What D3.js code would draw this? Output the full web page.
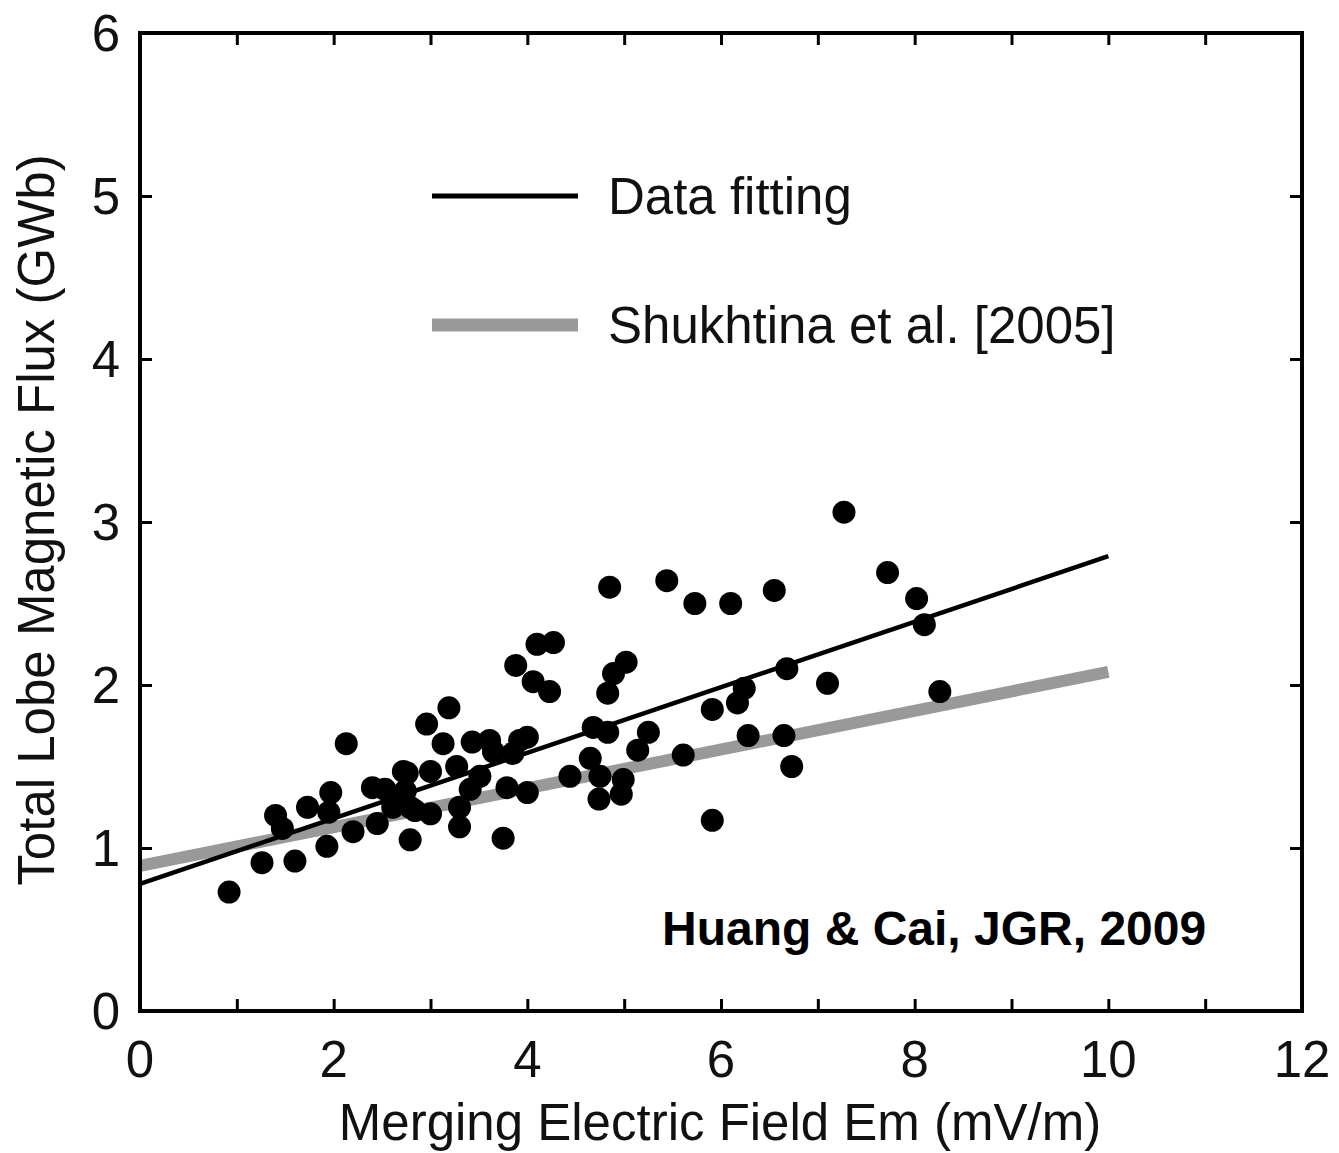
<!DOCTYPE html>
<html>
<head>
<meta charset="utf-8">
<script src="https://cdn.jsdelivr.net/npm/d3@7"></script>
<style>
  body { margin: 0; background: #fff; }
  text { font-family: "Liberation Sans", Arial, Helvetica, sans-serif; }
</style>
</head>
<body>
<div id="chart"></div>
<script>
// Observed points: merging electric field Em (mV/m) vs total lobe flux (GWb)
var emValues = [
    0.92, 1.26, 1.60, 1.40, 1.47, 1.73, 1.93, 1.97, 1.95, 2.13,
    2.20, 2.40, 2.45, 2.53, 2.61, 2.72, 2.74, 2.84, 2.79, 2.76,
    3.00, 2.79, 3.00, 2.96, 3.19, 3.13, 3.27, 3.30, 3.30, 3.43,
    3.61, 3.51, 3.41, 3.65, 3.75, 3.79, 3.85, 3.92, 4.00, 4.00,
    3.88, 4.06, 4.23, 4.10, 4.27, 4.44, 4.65, 4.68, 4.83, 4.75,
    4.74, 4.99, 4.97, 5.14, 5.25, 4.83, 4.89, 5.02, 4.85, 5.44,
    5.73, 6.10, 6.55, 7.27, 7.72, 8.02, 8.10, 6.68, 7.10, 8.26,
    6.24, 6.17, 5.91, 6.28, 6.65, 5.61, 6.73, 5.91
];
var fluxValues = [
    0.73, 0.91, 0.92, 1.20, 1.12, 1.25, 1.01, 1.34, 1.22, 1.64,
    1.10, 1.37, 1.15, 1.36, 1.25, 1.47, 1.35, 1.23, 1.05, 1.46,
    1.47, 1.25, 1.21, 1.76, 1.86, 1.64, 1.50, 1.25, 1.13, 1.65,
    1.66, 1.44, 1.36, 1.59, 1.06, 1.37, 1.58, 1.66, 1.68, 1.34,
    2.12, 2.02, 1.96, 2.25, 2.26, 1.44, 1.55, 1.74, 1.71, 1.44,
    1.30, 1.42, 1.33, 1.60, 1.71, 1.95, 2.07, 2.14, 2.60, 2.64,
    2.50, 2.50, 2.58, 3.06, 2.69, 2.53, 2.37, 2.10, 2.01, 1.96,
    1.98, 1.89, 1.85, 1.69, 1.69, 1.57, 1.50, 1.17
];

// Fitted lines, end points at Em = 0 and Em = 10
var lineEm = [0, 10];
var fitFlux = [0.78, 2.79];
var shukhtinaFlux = [0.89, 2.08];

var legendLabels = ["Data fitting", "Shukhtina et al. [2005]"];
var xTickLabels = [0, 2, 4, 6, 8, 10, 12];
var yTickLabels = [0, 1, 2, 3, 4, 5, 6];

var w = 1339;
var h = 1153;
var plotLeft = 140, plotRight = 1302, plotTop = 33, plotBottom = 1011;

var svg = d3.select("#chart")
    .append("svg")
    .attr("width", w)
    .attr("height", h);

var xScale = d3.scaleLinear().domain([0, 12]).range([plotLeft, plotRight]);
var yScale = d3.scaleLinear().domain([0, 6]).range([plotBottom, plotTop]);

var tickLen = 12;

// Inward ticks on all four sides (x every 1, y every 1)
var xAxisBottom = d3.axisBottom(xScale).tickValues(d3.range(0, 13, 1))
    .tickSize(-tickLen).tickFormat("");
var xAxisTop = d3.axisTop(xScale).tickValues(d3.range(0, 13, 1))
    .tickSize(-tickLen).tickFormat("");
var yAxisLeft = d3.axisLeft(yScale).tickValues(d3.range(0, 7, 1))
    .tickSize(-tickLen).tickFormat("");
var yAxisRight = d3.axisRight(yScale).tickValues(d3.range(0, 7, 1))
    .tickSize(-tickLen).tickFormat("");

function styleAxis(g) {
    g.select(".domain").remove();
    g.selectAll(".tick line").attr("stroke", "#000").attr("stroke-width", 3);
}

svg.append("g").attr("transform", `translate(0,${plotBottom})`).call(xAxisBottom).call(styleAxis);
svg.append("g").attr("transform", `translate(0,${plotTop})`).call(xAxisTop).call(styleAxis);
svg.append("g").attr("transform", `translate(${plotLeft},0)`).call(yAxisLeft).call(styleAxis);
svg.append("g").attr("transform", `translate(${plotRight},0)`).call(yAxisRight).call(styleAxis);

// Tick labels
svg.selectAll("text.xlab")
    .data(xTickLabels)
    .enter()
    .append("text")
    .attr("class", "xlab")
    .attr("x", d => xScale(d))
    .attr("y", plotBottom + 66)
    .attr("text-anchor", "middle")
    .attr("font-size", "51px")
    .attr("fill", "#111")
    .text(d => d);

svg.selectAll("text.ylab")
    .data(yTickLabels)
    .enter()
    .append("text")
    .attr("class", "ylab")
    .attr("x", plotLeft - 20)
    .attr("y", d => yScale(d) + 18)
    .attr("text-anchor", "end")
    .attr("font-size", "51px")
    .attr("fill", "#111")
    .text(d => d);

// Fit lines
var lineGen = d3.line().x(d => xScale(d[0])).y(d => yScale(d[1]));

svg.append("path")
    .datum(lineEm.map((e, i) => [e, shukhtinaFlux[i]]))
    .attr("d", lineGen)
    .attr("fill", "none")
    .attr("stroke", "#999")
    .attr("stroke-width", 12);

svg.append("path")
    .datum(lineEm.map((e, i) => [e, fitFlux[i]]))
    .attr("d", lineGen)
    .attr("fill", "none")
    .attr("stroke", "#000")
    .attr("stroke-width", 4.5);

// Data points
svg.selectAll("circle")
    .data(emValues.map((e, i) => ({ em: e, flux: fluxValues[i] })))
    .enter()
    .append("circle")
    .attr("cx", d => xScale(d.em))
    .attr("cy", d => yScale(d.flux))
    .attr("r", 11.5)
    .attr("fill", "#000");

// Legend
var legendY = [196, 325];
var legendStroke = [["#000", 5], ["#999", 13]];
legendLabels.forEach(function(label, i) {
    svg.append("line")
        .attr("x1", 432).attr("x2", 578)
        .attr("y1", legendY[i]).attr("y2", legendY[i])
        .attr("stroke", legendStroke[i][0])
        .attr("stroke-width", legendStroke[i][1]);
    svg.append("text")
        .attr("x", 608)
        .attr("y", legendY[i] + 18)
        .attr("font-size", "51px")
        .attr("fill", "#111")
        .text(label);
});

// Citation
svg.append("text")
    .attr("x", 662)
    .attr("y", 945)
    .attr("font-size", "48px")
    .attr("font-weight", "bold")
    .attr("fill", "#000")
    .text("Huang & Cai, JGR, 2009");

// Frame
svg.append("rect")
    .attr("x", plotLeft).attr("y", plotTop)
    .attr("width", plotRight - plotLeft).attr("height", plotBottom - plotTop)
    .attr("fill", "none")
    .attr("stroke", "#000")
    .attr("stroke-width", 4);

// Axis titles
svg.append("text")
    .attr("text-anchor", "middle")
    .attr("x", (plotLeft + plotRight) / 2 - 1)
    .attr("y", 1140)
    .attr("font-size", "51px")
    .attr("fill", "#111")
    .text("Merging Electric Field Em (mV/m)");

svg.append("text")
    .attr("text-anchor", "middle")
    .attr("transform", "rotate(-90)")
    .attr("x", -520)
    .attr("y", 54)
    .attr("font-size", "51px")
    .attr("fill", "#111")
    .text("Total Lobe Magnetic Flux (GWb)");
</script>
</body>
</html>
